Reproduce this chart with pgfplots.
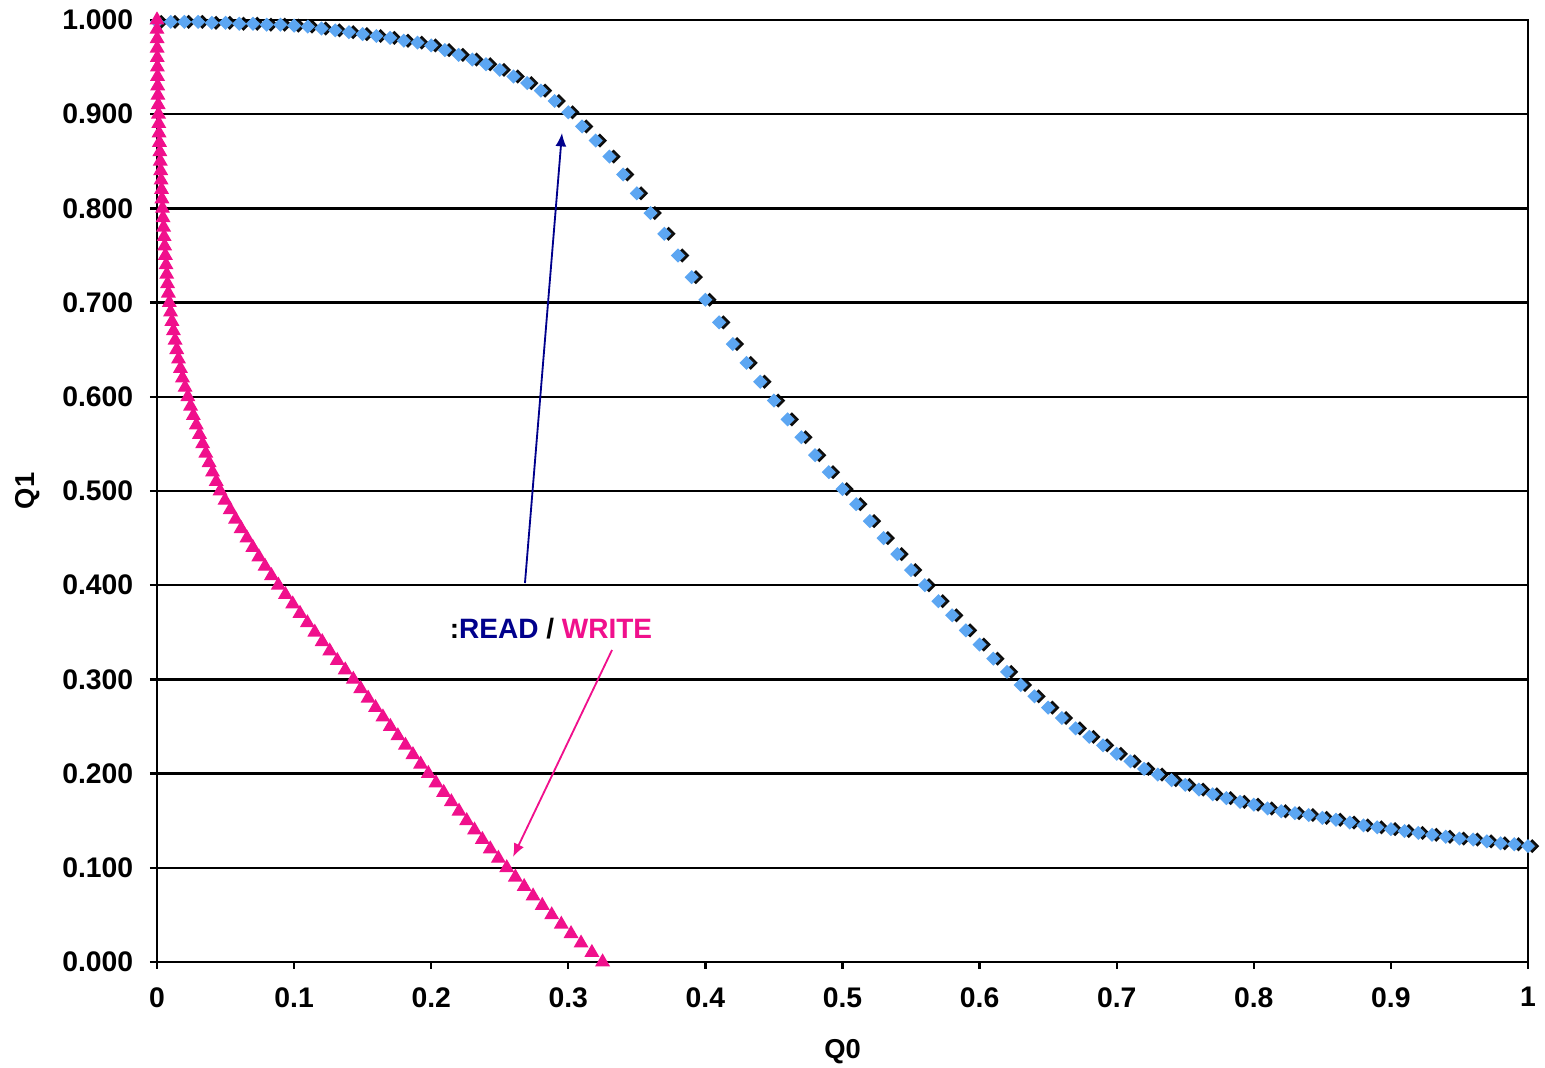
\documentclass[border=0pt]{standalone}
\usepackage{fontspec}
\setmainfont{Liberation Sans}
\usepackage{pgfplots}
\usepackage{pgfplotstable}
\pgfplotsset{compat=1.18}
\usetikzlibrary{arrows.meta}

\definecolor{readblue}{RGB}{92,166,242}
\definecolor{readnavy}{RGB}{0,0,140}
\definecolor{writepink}{RGB}{240,16,140}

% READ curve: Q1 against Q0
\pgfplotstableread{
q0 q1
0.00 0.998
0.01 0.998
0.02 0.998
0.03 0.998
0.04 0.997
0.05 0.997
0.06 0.996
0.07 0.996
0.08 0.995
0.09 0.995
0.10 0.994
0.11 0.993
0.12 0.991
0.13 0.989
0.14 0.987
0.15 0.985
0.16 0.983
0.17 0.981
0.18 0.978
0.19 0.976
0.20 0.973
0.21 0.968
0.22 0.963
0.23 0.958
0.24 0.953
0.25 0.947
0.26 0.940
0.27 0.933
0.28 0.925
0.29 0.914
0.30 0.902
0.31 0.887
0.32 0.872
0.33 0.855
0.34 0.836
0.35 0.816
0.36 0.795
0.37 0.773
0.38 0.750
0.39 0.727
0.40 0.703
0.41 0.679
0.42 0.656
0.43 0.636
0.44 0.616
0.45 0.596
0.46 0.576
0.47 0.557
0.48 0.538
0.49 0.520
0.50 0.502
0.51 0.486
0.52 0.468
0.53 0.450
0.54 0.433
0.55 0.416
0.56 0.400
0.57 0.383
0.58 0.368
0.59 0.352
0.60 0.337
0.61 0.322
0.62 0.308
0.63 0.294
0.64 0.282
0.65 0.270
0.66 0.259
0.67 0.248
0.68 0.239
0.69 0.230
0.70 0.221
0.71 0.213
0.72 0.205
0.73 0.199
0.74 0.193
0.75 0.188
0.76 0.183
0.77 0.178
0.78 0.174
0.79 0.170
0.80 0.167
0.81 0.163
0.82 0.160
0.83 0.158
0.84 0.156
0.85 0.153
0.86 0.151
0.87 0.148
0.88 0.145
0.89 0.143
0.90 0.141
0.91 0.139
0.92 0.137
0.93 0.135
0.94 0.133
0.95 0.131
0.96 0.130
0.97 0.128
0.98 0.126
0.99 0.125
1.00 0.123
}\readdata

% WRITE curve
\pgfplotstableread{
q0 q1
0.0000 1.00
0.0000 0.99
0.0001 0.98
0.0001 0.97
0.0002 0.96
0.0003 0.95
0.0004 0.94
0.0005 0.93
0.0007 0.92
0.0009 0.91
0.0011 0.90
0.0013 0.89
0.0015 0.88
0.0018 0.87
0.0021 0.86
0.0024 0.85
0.0027 0.84
0.0030 0.83
0.0033 0.82
0.0036 0.81
0.0040 0.80
0.0044 0.79
0.0048 0.78
0.0052 0.77
0.0056 0.76
0.0061 0.75
0.0066 0.74
0.0071 0.73
0.0077 0.72
0.0083 0.71
0.0090 0.70
0.0099 0.69
0.0109 0.68
0.0120 0.67
0.0132 0.66
0.0144 0.65
0.0157 0.64
0.0171 0.63
0.0186 0.62
0.0205 0.61
0.0225 0.60
0.0245 0.59
0.0265 0.58
0.0287 0.57
0.0310 0.56
0.0333 0.55
0.0356 0.54
0.0380 0.53
0.0405 0.52
0.0432 0.51
0.0460 0.50
0.0496 0.49
0.0534 0.48
0.0573 0.47
0.0614 0.46
0.0656 0.45
0.0699 0.44
0.0743 0.43
0.0788 0.42
0.0835 0.41
0.0885 0.40
0.0937 0.39
0.0990 0.38
0.1043 0.37
0.1097 0.36
0.1151 0.35
0.1205 0.34
0.1260 0.33
0.1315 0.32
0.1373 0.31
0.1432 0.30
0.1486 0.29
0.1540 0.28
0.1594 0.27
0.1648 0.26
0.1702 0.25
0.1757 0.24
0.1812 0.23
0.1867 0.22
0.1923 0.21
0.1979 0.20
0.2035 0.19
0.2091 0.18
0.2147 0.17
0.2203 0.16
0.2259 0.15
0.2316 0.14
0.2373 0.13
0.2431 0.12
0.2490 0.11
0.2551 0.10
0.2614 0.09
0.2678 0.08
0.2743 0.07
0.2810 0.06
0.2879 0.05
0.2949 0.04
0.3020 0.03
0.3093 0.02
0.3172 0.01
0.3250 0.00
}\writedata

\begin{document}
\begin{tikzpicture}
\begin{axis}[
  name=ax,
  scale only axis,
  width=411.3pt, height=282.6pt,
  xmin=0, xmax=1, ymin=0, ymax=1,
  clip=false,
  axis line style={line width=0.7pt},
  xtick={0,0.1,0.2,0.3,0.4,0.5,0.6,0.7,0.8,0.9,1},
  ytick={0,0.1,0.2,0.3,0.4,0.5,0.6,0.7,0.8,0.9,1},
  tick pos=left,
  tick align=outside,
  major tick length=2.1pt,
  tick style={line width=0.7pt, black},
  ymajorgrids,
  grid style={line width=0.7pt, black},
  /pgf/number format/assume math mode=true,
  ticklabel style={font=\fontsize{8.5}{9}\selectfont\bfseries},
  yticklabel style={/pgf/number format/.cd, fixed, fixed zerofill, precision=3},
  xticklabel style={/pgf/number format/.cd, fixed, precision=1},
  yticklabel shift=1.5pt,
  xticklabel shift=2.0pt,
  xlabel={Q0}, ylabel={Q1},
  label style={font=\fontsize{8.2}{9}\selectfont\bfseries},
  xlabel style={at={(axis description cs:0.5,-0.0955)}, anchor=center},
  ylabel style={at={(axis description cs:-0.094,0.5)}, anchor=center, rotate=0},
]
% READ: black shadow, then blue diamonds
\addplot[black, only marks, mark=square*, mark size=1.3pt,
  mark options={rotate=45, draw=none, fill=black, opacity=0.9, xshift=0.9pt, yshift=-0.9pt}]
  table[x=q0, y=q1] {\readdata};
\addplot[readblue, only marks, mark=square*, mark size=1.3pt,
  mark options={rotate=45, draw=none, fill=readblue}]
  table[x=q0, y=q1] {\readdata};
% WRITE: pink triangles
\addplot[writepink, only marks, mark=triangle*, mark size=2.2pt,
  mark options={draw=none, fill=writepink}]
  table[x=q0, y=q1] {\writedata};

\draw[readnavy, line width=0.55pt, -{Latex[length=4pt, width=3.3pt]}]
  (axis cs:0.2684,0.4023) -- (axis cs:0.2954,0.880);
\draw[writepink, line width=0.55pt, -{Latex[length=4pt, width=3.3pt]}]
  (axis cs:0.3319,0.3312) -- (axis cs:0.2597,0.1115);
\node[font=\fontsize{8.4}{9}\selectfont\bfseries, inner sep=0pt]
  at (axis cs:0.2874,0.3535)
  {:\textcolor{readnavy}{READ} / \textcolor{writepink}{WRITE}};
\end{axis}
\pgfresetboundingbox
\path ([shift={(-47.1pt,-31.8pt)}]ax.south west) rectangle ([shift={(5.1pt,6pt)}]ax.north east);
\end{tikzpicture}
\end{document}
